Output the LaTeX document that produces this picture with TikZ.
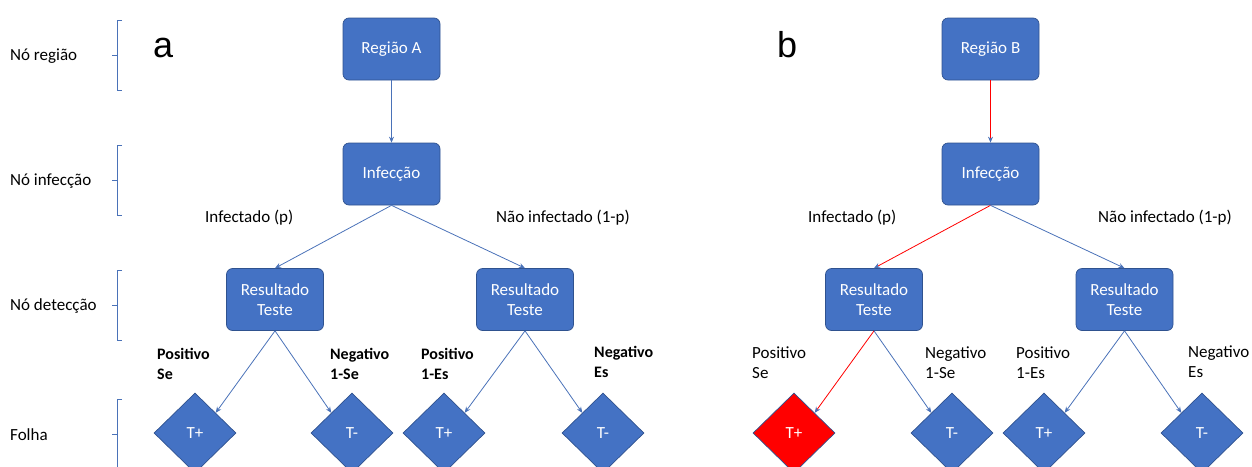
\documentclass[tikz,border=0pt]{standalone}
\usepackage{fontspec}
\setmainfont{Carlito}
\newfontfamily\panelfont{Liberation Sans}
\usetikzlibrary{shapes.geometric,arrows.meta}
\definecolor{boxblue}{HTML}{4472C4}
\definecolor{boxedge}{HTML}{2F528F}
\definecolor{linkblue}{HTML}{4A72B8}
\definecolor{pathred}{HTML}{FF0000}
\tikzset{
  stage/.style={rectangle, rounded corners=6pt, fill=boxblue, draw=boxedge, line width=0.7pt,
    minimum width=97pt, minimum height=62pt, text=white, align=center,
    font=\fontsize{17pt}{20pt}\selectfont},
  leaf/.style={diamond, fill=boxblue, draw=boxedge, line width=0.7pt, inner sep=0pt,
    minimum width=82pt, minimum height=80pt, text=white, font=\fontsize{17pt}{20pt}\selectfont},
  hitleaf/.style={leaf, fill=pathred},
  link/.style={draw=linkblue, line width=0.8pt, -{Stealth[length=6pt,width=5pt]}},
  hotlink/.style={draw=pathred, line width=0.8pt, -{Stealth[length=6pt,width=5pt,color=linkblue]}},
  lbl/.style={anchor=west, inner sep=0pt, align=left, font=\fontsize{17pt}{20pt}\selectfont},
  blbl/.style={lbl, font=\fontsize{16pt}{20pt}\selectfont\bfseries},
  panel/.style={anchor=base west, inner sep=0pt, font=\panelfont\fontsize{36pt}{40pt}\selectfont},
  bracket/.style={draw=linkblue, line width=0.8pt}
}
\begin{document}
\begin{tikzpicture}[x=1pt,y=-1pt]
\useasboundingbox (0,0) rectangle (1252,466);

% level names with their brackets
\node[lbl] (lvl1) at (10,56) {Nó região};
\node[lbl] (lvl2) at (10,181) {Nó infecção};
\node[lbl] (lvl3) at (10,306) {Nó detecção};
\node[lbl] (lvl4) at (10,435) {Folha};
\foreach \yt/\ym in {20/55, 145/180, 270/305, 399/434} {
  \draw[bracket] (122,\yt) -- (117,\yt) -- (117,\yt+70) -- (122,\yt+70);
  \draw[bracket] (117,\ym) -- (112,\ym);
}

% ---------- panel a ----------
\node[panel] (pa) at (153,57) {a};
\node[stage] (ra) at (391.5,49) {Região A};
\node[stage] (ia) at (391.5,174) {Infecção};
\node[stage] (tal) at (275,299.5) {Resultado\\Teste};
\node[stage] (tar) at (525,299.5) {Resultado\\Teste};
\node[leaf] (a1) at (195,433) {T+};
\node[leaf] (a2) at (352,433) {T-};
\node[leaf] (a3) at (444,433) {T+};
\node[leaf] (a4) at (603,433) {T-};

\draw[link] (ra.south) -- (ia.north);
\draw[link] (ia.south) -- (tal.north);
\draw[link] (ia.south) -- (tar.north);
\draw[link] (tal.south) -- (a1.north east);
\draw[link] (tal.south) -- (a2.north west);
\draw[link] (tar.south) -- (a3.north east);
\draw[link] (tar.south) -- (a4.north west);

\node[lbl] (pa1) at (205,218) {Infectado (p)};
\node[lbl] (pa2) at (496,218) {Não infectado (1-p)};
\node[blbl] (pa3) at (157,364) {Positivo\\Se};
\node[blbl] (pa4) at (330,364) {Negativo\\1-Se};
\node[blbl] (pa5) at (421,364) {Positivo\\1-Es};
\node[blbl] (pa6) at (594,362) {Negativo\\Es};

% ---------- panel b ----------
\node[panel] (pb) at (777,57) {b};
\node[stage] (rb) at (990.5,49) {Região B};
\node[stage] (ib) at (990.5,174) {Infecção};
\node[stage] (tbl) at (874,299.5) {Resultado\\Teste};
\node[stage] (tbr) at (1124.5,299.5) {Resultado\\Teste};
\node[hitleaf] (b1) at (794,433) {T+};
\node[leaf] (b2) at (952,433) {T-};
\node[leaf] (b3) at (1044,433) {T+};
\node[leaf] (b4) at (1202,433) {T-};

\draw[hotlink] (rb.south) -- (ib.north);
\draw[hotlink] (ib.south) -- (tbl.north);
\draw[link] (ib.south) -- (tbr.north);
\draw[hotlink] (tbl.south) -- (b1.north east);
\draw[link] (tbl.south) -- (b2.north west);
\draw[link] (tbr.south) -- (b3.north east);
\draw[link] (tbr.south) -- (b4.north west);

\node[lbl] (pb1) at (808,218) {Infectado (p)};
\node[lbl] (pb2) at (1098,218) {Não infectado (1-p)};
\node[lbl] (pb3) at (752,363) {Positivo\\Se};
\node[lbl] (pb4) at (925,363) {Negativo\\1-Se};
\node[lbl] (pb5) at (1016,363) {Positivo\\1-Es};
\node[lbl] (pb6) at (1188,362) {Negativo\\Es};
\end{tikzpicture}
\end{document}
